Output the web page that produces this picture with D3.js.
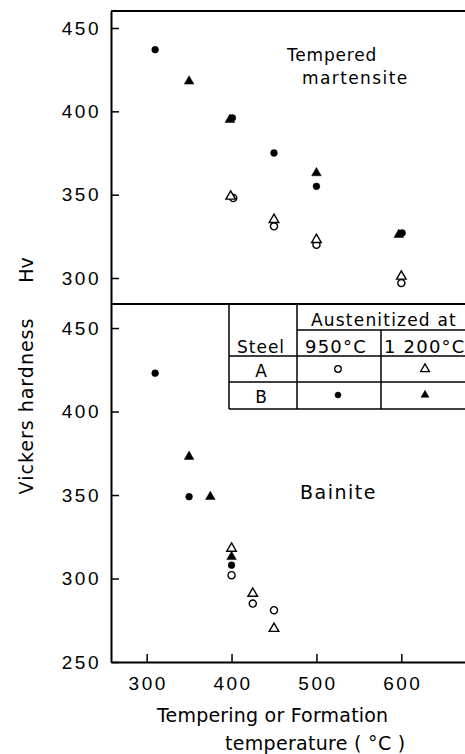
<!DOCTYPE html>
<html>
<head>
<meta charset="utf-8">
<script src="https://cdn.jsdelivr.net/npm/d3@7"></script>
<style>
  body { margin: 0; background: #fff; }
  svg { display: block; font-family: "DejaVu Sans", sans-serif; }
</style>
</head>
<body>
<svg id="chart" width="465" height="754"></svg>
<script>
// values, [temperature °C, Hv]
const martA950 = [[402, 348], [450, 331], [500, 320], [600, 297]];
const martA1200 = [[399, 349], [450, 335], [500, 323], [600, 301]];
const martB950 = [[310, 437], [401, 396], [450, 375], [500, 355], [601, 327]];
const martB1200 = [[350, 418], [398, 395], [500, 363], [597, 326]];

const bainA950 = [[400, 302], [425, 285], [450, 281]];
const bainA1200 = [[400, 318], [425, 291], [450, 270]];
const bainB950 = [[310, 423], [350, 349], [400, 308]];
const bainB1200 = [[350, 373], [375, 349], [400, 313]];

const xTicks = [300, 400, 500, 600];
const topTicks = [300, 350, 400, 450];
const botTicks = [250, 300, 350, 400, 450];

const legendCols = ["950°C", "1 200°C"];
const legendRows = ["A", "B"];

const svg = d3.select("#chart");
const mLeft = 111, mRight = 465, mTop = 11, mMid = 304, mBottom = 662;

const x = d3.scaleLinear().domain([258, 675]).range([mLeft, mRight]);
const yTop = d3.scaleLinear().domain([284.4, 460.2]).range([mMid, mTop]);
const yBot = d3.scaleLinear().domain([250, 464.4]).range([mBottom, mMid]);

// axes, ticks point inward
const styleAxis = g => {
  g.select(".domain").attr("stroke-width", 2);
  g.selectAll(".tick line").attr("stroke-width", 1.5);
  g.selectAll("text").style("font-size", "19px").style("letter-spacing", "2.5px").attr("fill", "#000");
};

svg.append("g").attr("transform", `translate(${mLeft},0)`)
  .call(d3.axisLeft(yTop).tickValues(topTicks).tickSize(-8).tickSizeOuter(0).tickPadding(10))
  .call(styleAxis);
svg.append("g").attr("transform", `translate(${mLeft},0)`)
  .call(d3.axisLeft(yBot).tickValues(botTicks).tickSize(-8).tickSizeOuter(0).tickPadding(10))
  .call(styleAxis);
svg.append("g").attr("transform", `translate(0,${mBottom})`)
  .call(d3.axisBottom(x).tickValues(xTicks).tickSize(-8).tickSizeOuter(0).tickPadding(15))
  .call(styleAxis)
  .selectAll("text").attr("dx", "1px");

// top border and panel divider
svg.append("line").attr("x1", mLeft).attr("x2", mRight).attr("y1", mTop).attr("y2", mTop)
  .attr("stroke", "#000").attr("stroke-width", 2);
svg.append("line").attr("x1", mLeft).attr("x2", mRight).attr("y1", mMid).attr("y2", mMid)
  .attr("stroke", "#000").attr("stroke-width", 2);

// markers
const circ = d3.symbol().type(d3.symbolCircle);
const tri = d3.symbol().type(d3.symbolTriangle);

function plot(data, y, gen, size, filled) {
  svg.append("g").selectAll("path").data(data).join("path")
    .attr("transform", d => `translate(${x(d[0])},${y(d[1])})`)
    .attr("d", gen.size(size)())
    .attr("fill", filled ? "#000" : "#fff")
    .attr("stroke", "#000")
    .attr("stroke-width", filled ? 0.5 : 1.4);
}

plot(martA950, yTop, circ, 40, false);
plot(martA1200, yTop, tri, 40, false);
plot(martB950, yTop, circ, 36, true);
plot(martB1200, yTop, tri, 40, true);
plot(bainA950, yBot, circ, 40, false);
plot(bainA1200, yBot, tri, 40, false);
plot(bainB950, yBot, circ, 36, true);
plot(bainB1200, yBot, tri, 40, true);

// panel labels
const label = (txt, tx, ty, size, ls) => svg.append("text").attr("x", tx).attr("y", ty)
  .style("font-size", size + "px").style("letter-spacing", (ls || 0) + "px").text(txt);
label("Tempered", 287, 61, 17, 0.8);
label("martensite", 302, 84, 17, 1.4);
label("Bainite", 300, 499, 19, 1.5);

// legend table
const tl = 229, c1 = 297, c2 = 381, r1 = 330, r2 = 356, r3 = 382, r4 = 409;
const tab = svg.append("g").attr("stroke", "#000").attr("stroke-width", 1.5);
tab.append("line").attr("x1", tl).attr("x2", tl).attr("y1", mMid).attr("y2", r4);
tab.append("line").attr("x1", c1).attr("x2", c1).attr("y1", mMid).attr("y2", r4);
tab.append("line").attr("x1", c2).attr("x2", c2).attr("y1", r1).attr("y2", r4);
tab.append("line").attr("x1", c1).attr("x2", mRight).attr("y1", r1).attr("y2", r1);
tab.append("line").attr("x1", tl).attr("x2", mRight).attr("y1", r2).attr("y2", r2);
tab.append("line").attr("x1", tl).attr("x2", mRight).attr("y1", r3).attr("y2", r3);
tab.append("line").attr("x1", tl).attr("x2", mRight).attr("y1", r4).attr("y2", r4);

label("Austenitized at", 311, 326, 17, 1.2);
label("Steel", 237, 353, 17, 1);
svg.append("g").selectAll("text").data(legendCols).join("text")
  .attr("x", (d, i) => i === 0 ? 305 : 384).attr("y", 353)
  .style("font-size", "18px").style("letter-spacing", "1.2px").text(d => d);
svg.append("g").selectAll("text").data(legendRows).join("text")
  .attr("x", 261).attr("y", (d, i) => i === 0 ? 377 : 403)
  .attr("text-anchor", "middle").style("font-size", "17px").text(d => d);

const legendMarks = [[338, 369, circ, false], [425, 369, tri, false], [338, 395, circ, true], [425, 395, tri, true]];
svg.append("g").selectAll("path").data(legendMarks).join("path")
  .attr("transform", d => `translate(${d[0]},${d[1]})`)
  .attr("d", d => d[2].size(d[3] ? 28 : 34)())
  .attr("fill", d => d[3] ? "#000" : "#fff")
  .attr("stroke", "#000").attr("stroke-width", d => d[3] ? 0.5 : 1.3);

// axis titles
svg.append("text").attr("transform", "translate(33,406) rotate(-90)")
  .attr("text-anchor", "middle").style("font-size", "19px").style("letter-spacing", "1px")
  .text("Vickers hardness");
svg.append("text").attr("transform", "translate(33,270) rotate(-90)")
  .attr("text-anchor", "middle").style("font-size", "19px").text("Hv");
label("Tempering or Formation", 157, 722, 19, 0.2);
label("temperature  ( °C )", 225, 750, 19, 0.3);
</script>
</body>
</html>
